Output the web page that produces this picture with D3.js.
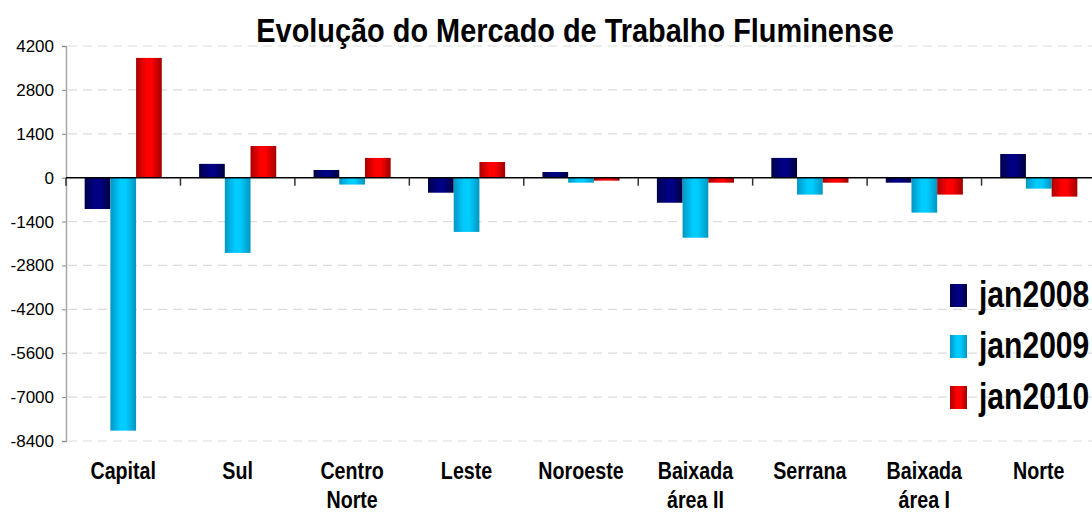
<!DOCTYPE html>
<html>
<head>
<meta charset="utf-8">
<script src="https://cdn.jsdelivr.net/npm/d3@7"></script>
<style>
  body { margin: 0; background: #fff; }
  svg { display: block; }
</style>
</head>
<body>
<div id="chart"></div>
<script>
// Chart data
const regions = ["Capital", "Sul", "Centro Norte", "Leste", "Noroeste", "Baixada área II", "Serrana", "Baixada área I", "Norte"];
const regionLines = [["Capital"], ["Sul"], ["Centro", "Norte"], ["Leste"], ["Noroeste"], ["Baixada", "área II"], ["Serrana"], ["Baixada", "área I"], ["Norte"]];
const seriesNames = ["jan2008", "jan2009", "jan2010"];
const jan2008 = [-1000, 440, 245, -480, 180, -800, 630, -160, 755];
const jan2009 = [-8070, -2400, -220, -1730, -160, -1915, -540, -1115, -350];
const jan2010 = [3820, 1010, 630, 500, -95, -160, -160, -540, -605];
const yTicks = [4200, 2800, 1400, 0, -1400, -2800, -4200, -5600, -7000, -8400];

(function () {
    const width = 1092, height = 515;
    const plotLeft = 66, plotRight = 1096, plotTop = 46, plotBottom = 441;
    const font = "'Liberation Sans', Arial, sans-serif";

    const svg = d3.select("#chart").append("svg")
        .attr("width", width)
        .attr("height", height);

    // gradients for the bars (dark edges, bright middle)
    const grads = [
        ["g0", "#00004a", "#000085", "#00003c"],
        ["g1", "#0096c4", "#00ccff", "#0096c0"],
        ["g2", "#a80000", "#ff0000", "#a00000"]
    ];
    const defs = svg.append("defs");
    grads.forEach(g => {
        const lg = defs.append("linearGradient").attr("id", g[0]).attr("x1", "0%").attr("x2", "100%");
        lg.append("stop").attr("offset", "0%").attr("stop-color", g[1]);
        lg.append("stop").attr("offset", "40%").attr("stop-color", g[2]);
        lg.append("stop").attr("offset", "60%").attr("stop-color", g[2]);
        lg.append("stop").attr("offset", "100%").attr("stop-color", g[3]);
    });

    const x0 = d3.scaleBand().domain(regions).range([plotLeft, plotRight]).padding(0);
    const x1 = d3.scaleBand().domain(seriesNames).range([0, x0.bandwidth()]).paddingInner(0).paddingOuter(0.726);
    const y = d3.scaleLinear().domain([-8400, 4200]).range([plotBottom, plotTop]);

    // dashed gridlines
    svg.append("g").selectAll("line")
        .data(yTicks.filter(t => t !== 0))
        .enter().append("line")
        .attr("x1", plotLeft + 2).attr("x2", plotRight)
        .attr("y1", d => y(d)).attr("y2", d => y(d))
        .attr("stroke", "#dcdcdc")
        .attr("stroke-width", 1.2)
        .attr("stroke-dasharray", "9,6");

    // y axis (plain hyphen for negatives, as in the original)
    const yAxis = d3.axisLeft(y).tickValues(yTicks).tickFormat(d => String(d)).tickSize(4).tickPadding(8);
    const yg = svg.append("g").attr("transform", `translate(${plotLeft},0)`).call(yAxis);
    yg.select(".domain").attr("stroke", "#a8a8a8").attr("stroke-width", 1.5);
    yg.selectAll(".tick line").attr("stroke", "#888");
    yg.selectAll("text")
        .attr("font-family", font)
        .attr("font-size", 17)
        .attr("fill", "#000");

    // bars
    const data = [jan2008, jan2009, jan2010];
    seriesNames.forEach((s, si) => {
        svg.append("g").selectAll("rect")
            .data(data[si])
            .enter().append("rect")
            .attr("x", (d, i) => x0(regions[i]) + x1(s))
            .attr("width", x1.bandwidth())
            .attr("y", d => y(Math.max(0, d)))
            .attr("height", d => Math.abs(y(d) - y(0)))
            .attr("fill", `url(#g${si})`);
    });

    // zero line and category ticks
    svg.append("line")
        .attr("x1", plotLeft).attr("x2", plotRight)
        .attr("y1", y(0)).attr("y2", y(0))
        .attr("stroke", "#000").attr("stroke-width", 1.5);
    svg.append("g").selectAll("line")
        .data(regions)
        .enter().append("line")
        .attr("x1", d => x0(d)).attr("x2", d => x0(d))
        .attr("y1", y(0)).attr("y2", y(0) + 8)
        .attr("stroke", "#333").attr("stroke-width", 1.5);

    // category labels (condensed with a horizontal scale, no narrow font installed)
    const lab = svg.append("g").selectAll("text")
        .data(regionLines)
        .enter().append("text")
        .attr("transform", (d, i) => `translate(${x0(regions[i]) + x0.bandwidth() / 2},479) scale(0.82,1)`)
        .attr("text-anchor", "middle")
        .attr("font-family", font)
        .attr("font-weight", "bold")
        .attr("font-size", 24)
        .attr("fill", "#000");
    lab.each(function (lines) {
        d3.select(this).selectAll("tspan")
            .data(lines)
            .enter().append("tspan")
            .attr("x", 0)
            .attr("dy", (d, j) => j === 0 ? 0 : 29)
            .text(d => d);
    });

    // title
    svg.append("text")
        .attr("transform", "translate(575,42) scale(0.85,1)")
        .attr("text-anchor", "middle")
        .attr("font-family", font)
        .attr("font-weight", "bold")
        .attr("font-size", 34)
        .attr("fill", "#000")
        .text("Evolução do Mercado de Trabalho Fluminense");

    // legend
    const legend = svg.append("g").selectAll("g")
        .data(seriesNames)
        .enter().append("g")
        .attr("transform", (d, i) => `translate(950,${284 + i * 51})`);
    legend.append("rect")
        .attr("width", 17).attr("height", 23)
        .attr("fill", (d, i) => `url(#g${i})`);
    legend.append("text")
        .attr("transform", "translate(29,23) scale(0.835,1)")
        .attr("font-family", font)
        .attr("font-weight", "bold")
        .attr("font-size", 36)
        .attr("fill", "#000")
        .text(d => d);
})();
</script>
</body>
</html>
